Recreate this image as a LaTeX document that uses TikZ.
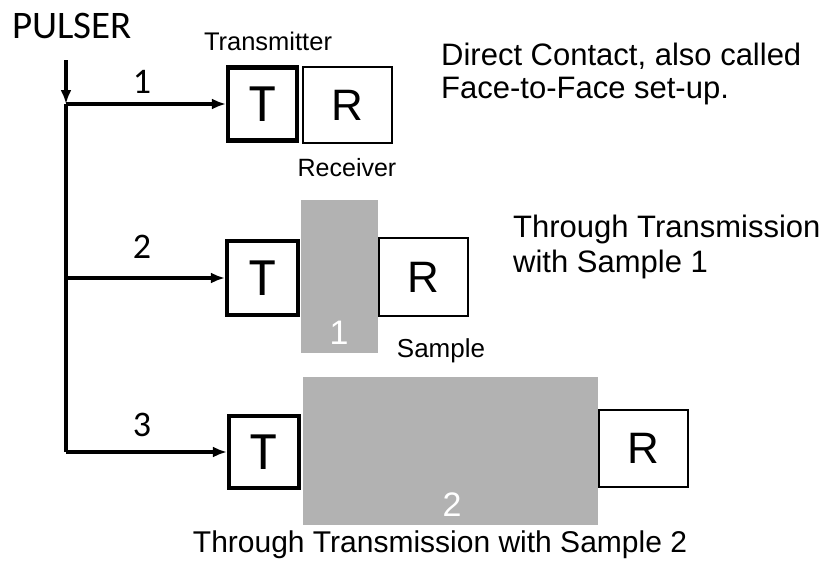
\documentclass[tikz,border=0pt]{standalone}
\usepackage{fontspec}
\setmainfont{Liberation Sans}
\newfontfamily\calfont{Carlito}
\usetikzlibrary{arrows.meta}

\begin{document}
\begin{tikzpicture}[x=1pt, y=-1pt, >={Latex[length=14pt,width=11pt]}, line cap=butt,
	tbox/.style={draw, line width=4.2pt, fill=white, inner sep=0pt,
		font=\calfont\fontsize{54}{54}\selectfont},
	rbox/.style={draw, line width=1.8pt, fill=white, inner sep=0pt, minimum width=89pt,
		font=\fontsize{44}{44}\selectfont},
	sample/.style={fill=black!30, inner sep=0pt},
	pulse/.style={line width=3.6pt},
	num/.style={font=\calfont\fontsize{36}{36}\selectfont, inner sep=0pt},
	snum/.style={text=white, font=\fontsize{34}{34}\selectfont, inner sep=0pt},
	note/.style={align=left, inner sep=0pt, anchor=base west}]

\useasboundingbox (0,0) rectangle (823,563);

% ==== samples (behind the transducers) ====
\node[sample, minimum width=77pt, minimum height=153pt] (s1) at (339.5,276.5) {};
\node[sample, minimum width=295pt, minimum height=148pt] (s2) at (450.5,451) {};
\node[snum] (n1) at (339,333) {1};
\node[snum] (n2) at (452,505) {2};

% ==== 1: face-to-face ====
\node[tbox, minimum width=69pt, minimum height=73pt] (t1) at (262.5,104) {T};
\node[rbox, minimum height=76pt] (r1) at (347.5,105) {R};

% ==== 2: through sample 1 ====
\node[tbox, minimum width=71pt, minimum height=74pt] (t2) at (262.5,278) {T};
\node[rbox, minimum height=78pt] (r2) at (423.5,277) {R};

% ==== 3: through sample 2 ====
\node[tbox, minimum width=70pt, minimum height=72pt] (t3) at (264,452) {T};
\node[rbox, minimum height=77pt] (r3) at (643.5,448.5) {R};

% ==== pulser lines ====
\node[font=\calfont\fontsize{39}{39}\selectfont, inner sep=0pt, anchor=west] (pulser) at (12,26) {PULSER};
\coordinate (top) at (66,60);
\coordinate (j1) at (66,104);
\coordinate (j2) at (66,278);
\coordinate (j3) at (66,452);
\draw[pulse,->] (top) -- (j1);
\draw[pulse] (j1) -- (j3);
\draw[pulse,->] (j1) -- (t1.west);
\draw[pulse,->] (j2) -- (t2.west);
\draw[pulse,->] (j3) -- (t3.west);
\node[num] (l1) at (142,82) {1};
\node[num] (l2) at (142,247) {2};
\node[num] (l3) at (142,425) {3};

% ==== labels ====
\node[font=\fontsize{25.5}{25.5}\selectfont, inner sep=0pt] (tx) at (268,41) {Transmitter};
\node[font=\fontsize{25}{25}\selectfont, inner sep=0pt] (rx) at (347,168) {Receiver};
\node[font=\fontsize{26}{26}\selectfont, inner sep=0pt, anchor=base] (smp) at (441,357) {Sample};
\node[note, font=\fontsize{31}{33}\selectfont] (d1) at (441,98)
	{Direct Contact, also called\\Face-to-Face set-up.};
\node[note, font=\fontsize{31}{35}\selectfont] (d2) at (513,272)
	{Through Transmission\\with Sample 1};
\node[font=\fontsize{30}{30}\selectfont, inner sep=0pt, anchor=base] (d3) at (440,552)
	{Through Transmission with Sample 2};

\end{tikzpicture}
\end{document}
